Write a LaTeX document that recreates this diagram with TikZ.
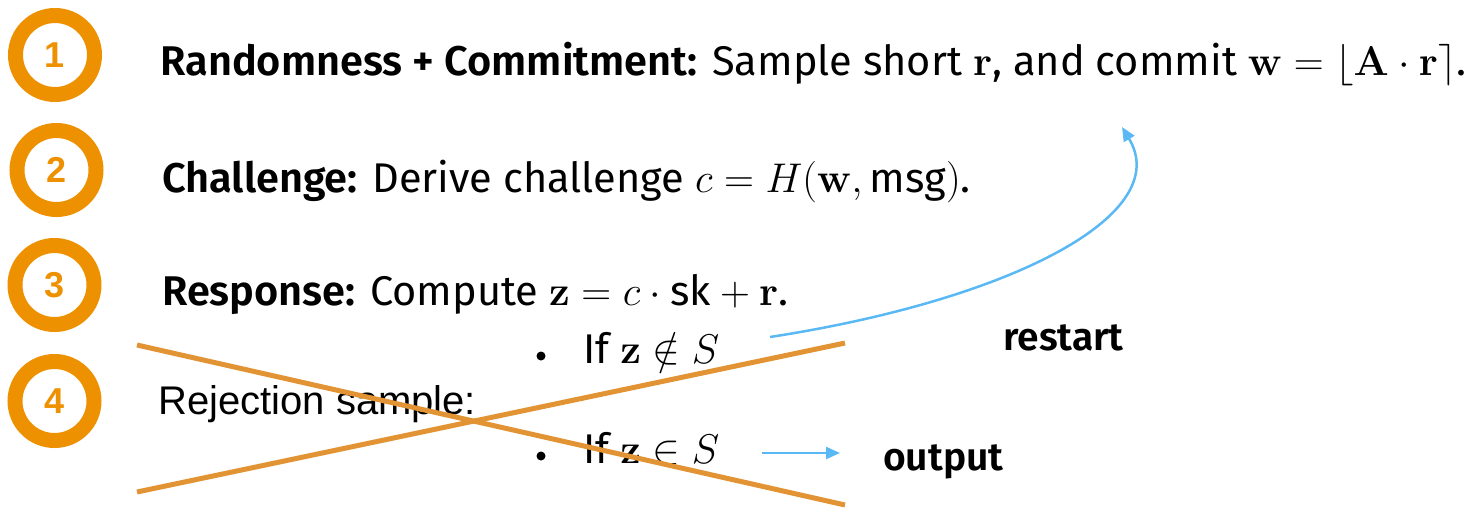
\RequirePackage{fix-cm}
\documentclass[tikz,border=0pt]{standalone}
\usepackage{amsmath}
\usepackage[no-math]{fontspec}
\setmainfont{Fira Sans}[BoldFont={Fira Sans SemiBold}]
\newfontfamily\arialfont{Liberation Sans}
\usetikzlibrary{arrows.meta}
\definecolor{circorange}{RGB}{238,145,0}
\definecolor{lineorange}{RGB}{226,148,52}
\definecolor{arrowblue}{RGB}{90,185,245}
\tikzset{
  numcirc/.style={circle, draw=circorange, line width=15pt, minimum size=79pt, inner sep=0pt,
    text=circorange, font=\arialfont\bfseries\fontsize{36}{40}\selectfont},
  maintext/.style={anchor=base west, inner sep=0pt, font=\fontsize{41.5}{49}\selectfont},
  rejtext/.style={anchor=base west, inner sep=0pt, font=\arialfont\fontsize{40}{48}\selectfont},
  boldlabel/.style={anchor=base west, inner sep=0pt, font=\bfseries\fontsize{39}{46}\selectfont},
  bulletdot/.style={circle, fill=black, inner sep=0pt, minimum size=9pt},
  crossline/.style={draw=lineorange, line width=5pt},
  bluearrow/.style={draw=arrowblue, line width=2.5pt, -{Triangle[length=14pt,width=12pt]}}
}
\begin{document}
\begin{tikzpicture}[x=1pt,y=-1pt]
\useasboundingbox (0,0) rectangle (1476,507);
% numbered circles
\node[numcirc] (c1) at (55,55) {1};
\node[numcirc] (c2) at (56.5,170) {2};
\node[numcirc] (c3) at (54.5,285) {3};
\node[numcirc] (c4) at (54.5,401) {4};
% main lines
\node[maintext] (t1) at (160,75) {\textbf{Randomness + Commitment:} Sample short $\mathbf{r}$, and commit $\mathbf{w} = \lfloor \mathbf{A}\cdot\mathbf{r}\rceil$.};
\node[maintext] (t2) at (162,192) {\textbf{Challenge:} Derive challenge $c = H(\mathbf{w}, \text{msg})$.};
\node[maintext] (t3) at (162,305) {\textbf{Response:} Compute $\mathbf{z} = c \cdot \text{sk} + \mathbf{r}$.};
\node[rejtext] (rej) at (158,414) {Rejection sample:};
% bullets
\node[bulletdot] (b1) at (541,356) {};
\node[maintext] (i1) at (583,363) {If $\mathbf{z} \notin S$};
\node[bulletdot] (b2) at (541,456) {};
\node[maintext] (i2) at (583,463) {If $\mathbf{z} \in S$};
% labels
\node[boldlabel] (restart) at (1003,350) {restart};
\node[boldlabel] (output) at (883,470) {output};
% arrows
\coordinate (rs) at (770,337);
\coordinate (re) at (1122,127);
\draw[bluearrow] (rs) .. controls (1010,300) and (1175,215) .. (re);
\coordinate (os) at (762,453);
\coordinate (oe) at (840,453);
\draw[bluearrow] (os) -- (oe);
% cross lines
\coordinate (x1s) at (137,345);
\coordinate (x1e) at (845,505);
\coordinate (x2s) at (137,492);
\coordinate (x2e) at (845,343);
\draw[crossline] (x1s) -- (x1e);
\draw[crossline] (x2s) -- (x2e);
\end{tikzpicture}
\end{document}
